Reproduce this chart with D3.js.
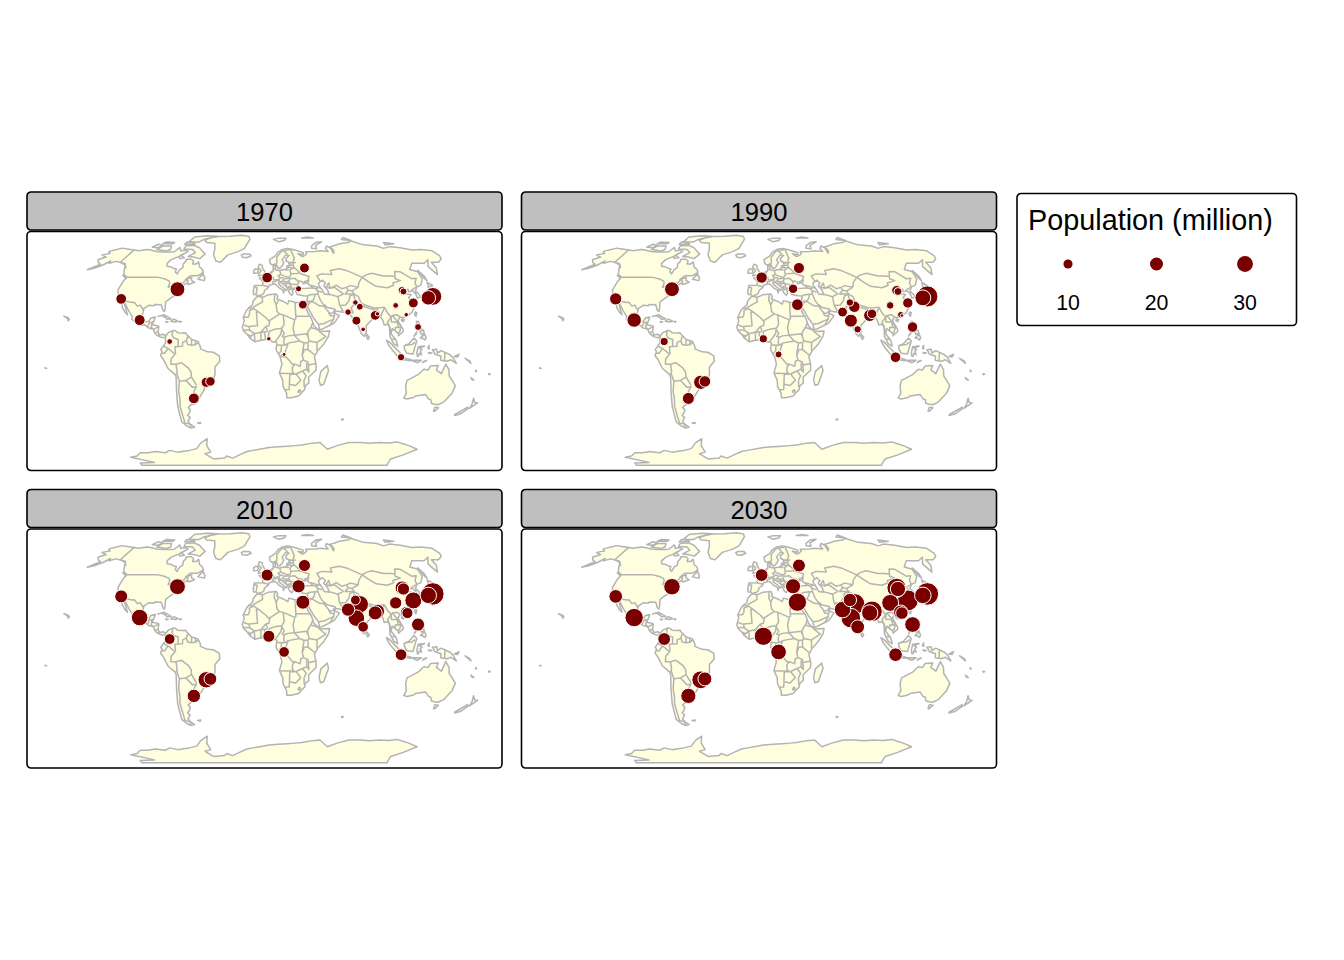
<!DOCTYPE html>
<html><head><meta charset="utf-8">
<script src="https://cdnjs.cloudflare.com/ajax/libs/d3/7.8.5/d3.min.js"></script>
<style>html,body{margin:0;padding:0;background:#fff}svg{display:block}text{font-family:"Liberation Sans",Arial,sans-serif;fill:#000}</style>
</head><body><svg id="c" width="1344" height="960"></svg>
<script>
// ---------- data ----------
const years = ["1970","1990","2010","2030"];
const cityNames = ["Tokyo","Osaka","New York","Los Angeles","Mexico City","Sao Paulo","Rio de Janeiro","Buenos Aires","Bogota","Paris","Moscow","Istanbul","Cairo","Lagos","Kinshasa","Karachi","Lahore","Delhi","Mumbai","Bangalore","Kolkata","Dhaka","Beijing","Tianjin","Chongqing","Shanghai","Guangzhou","Shenzhen","Manila","Jakarta"];
const cityLon = [139.8,135.5,-74,-118.2,-99.1,-46.6,-43.2,-58.4,-74.1,2.35,37.6,29,31.2,3.4,15.3,67,74.3,77.2,72.9,77.6,88.4,90.4,116.4,117.2,106.5,121.5,113.3,114.1,121,106.8];
const cityLat = [35.7,34.7,40.7,34,19.4,-23.5,-22.9,-34.6,4.6,48.85,55.75,41,30,6.5,-4.3,24.9,31.5,28.6,19,13,22.6,23.7,39.9,39.1,29.5,31.2,23.1,22.5,14.6,-6.2];
const pop1970 = [23.3,15.3,16.2,8.4,8.8,7.6,6.6,8.4,2.4,8.2,7.1,2.8,5.6,1.4,1.1,3.1,2.2,3.5,5.8,1.6,6.9,1.4,4.4,3.6,2.4,7.1,1.5,0.1,3.5,3.9];
const pop1990 = [32.5,18.4,16.1,10.9,15.3,14.8,9.6,10.5,4.7,9.3,9.0,6.5,9.9,4.8,3.6,7.1,4.1,9.7,12.4,4.0,10.9,6.6,6.8,4.6,4.2,7.8,3.1,0.9,8.0,8.2];
const pop2010 = [36.9,19.5,18.4,12.2,20.1,19.6,11.9,13.1,8.5,10.5,10.7,12.7,14.3,10.6,8.4,13.0,7.1,22.0,20.0,8.3,14.3,14.7,14.0,11.0,11.0,21.0,9.5,9.0,12.5,10.0];
const pop2030 = [37.2,20.0,19.9,13.6,24.6,23.2,14.2,16.9,11.9,11.8,12.2,16.7,24.5,24.2,18.0,20.0,13.0,33.0,28.0,14.0,19.4,31.0,27.0,17.0,21.0,32.0,15.0,11.5,18.0,13.5];
const popByYear = [pop1970,pop1990,pop2010,pop2030];
const legendTitle = "Population (million)";
const legendValues = [10,20,30];

// Robinson table
const robLat = [0,5,10,15,20,25,30,35,40,45,50,55,60,65,70,75,80,85,90];
const robLen = [1,.9986,.9954,.99,.9822,.973,.96,.9427,.9216,.8962,.8679,.835,.7986,.7597,.7186,.6732,.6213,.5722,.5322];
const robDfe = [0,.062,.124,.186,.248,.31,.372,.434,.4958,.5571,.6176,.6769,.7346,.7903,.8435,.8936,.9394,.9761,1];

// land polygons, [lon,lat]
const land = [
[[-168,65.6],[-164,66.5],[-162,66.9],[-166,68.3],[-163,69.5],[-157,71.2],[-150,70.5],[-141,69.7],[-135,69],[-128,70],[-125,69.8],[-115,68.5],[-108,68],[-100,68],[-96,68.2],[-94,71.8],[-90,69],[-85,69.5],[-81.5,68.5],[-85,66],[-87,64.5],[-93,62],[-94.5,59],[-92.5,57],[-88,56.5],[-85,55.3],[-82.3,55],[-82,52.9],[-79.5,51.5],[-79,54.5],[-77,56],[-78.5,58.7],[-77.5,60.5],[-78,62.4],[-73,62.3],[-70,61],[-69.5,58.8],[-66,58.8],[-64.5,60.3],[-61.5,56.5],[-58,54.8],[-56,52.5],[-60,50.2],[-66.5,50.2],[-70,47.5],[-65,49],[-64.5,47],[-61,45.5],[-66,44],[-67,45],[-70,43.7],[-70.7,42],[-74,40.6],[-75.5,38],[-76,35.5],[-78.5,33.8],[-81,32],[-80.2,27],[-80.3,25.3],[-81.7,26],[-82.8,28],[-84,30],[-89,30.2],[-90,29.2],[-94,29.6],[-97.3,27.5],[-97.5,24],[-97.5,21.5],[-96,19],[-94,18.2],[-91.5,18.6],[-90.5,20.8],[-87,21.5],[-87.8,18.2],[-88.7,16],[-86,15.9],[-83.3,15],[-83.6,11],[-82,9],[-79.5,9.6],[-77.3,8.6],[-77.5,7.5],[-78,7.3],[-80,7.4],[-81.7,7.8],[-83.5,8.5],[-85.7,10],[-87.5,13],[-91.5,14],[-94.5,16.2],[-97,15.8],[-101.5,17.5],[-105.5,20],[-105.5,22],[-109,25.6],[-112.5,29.5],[-114.7,31.7],[-112.5,28],[-110,24],[-109.5,23],[-112,25],[-115,28],[-117,32.5],[-120.5,34.5],[-122.5,37.5],[-124.3,40.3],[-124,46],[-123,49],[-127.5,51],[-130.5,54.5],[-133.5,58],[-140,59.8],[-146,60.7],[-151,59.3],[-152,61],[-155,58],[-160,55.5],[-165,54.5],[-158,58.5],[-162,59.8],[-166,62],[-161,64],[-168,65.6]],
[[-73,78.2],[-68,80.5],[-60,82],[-45,82.5],[-30,83.5],[-20,82],[-18,79],[-20,75],[-22,71],[-28,68.3],[-38,65.7],[-43,60],[-48,61],[-53,66],[-54,70],[-58,75.5],[-68,76],[-73,78.2]],
[[-80,73.5],[-72,71.5],[-67,69],[-62,66.5],[-65,62.8],[-72,64],[-78,64.5],[-73,67.5],[-78,70],[-88,70.5],[-89,73.3],[-80,73.5]],
[[-117,70],[-105,68.8],[-102,70],[-105,73],[-115,73],[-117,70]],
[[-125,72],[-118,71.5],[-115,73.5],[-122,74.5],[-125,72]],
[[-90,76.5],[-78,76.5],[-75,79],[-62,82.5],[-75,83],[-90,81.5],[-90,76.5]],
[[-92,74.5],[-80,74.5],[-82,75.7],[-92,76.5],[-92,74.5]],
[[-118,75],[-106,75],[-106,76.2],[-116,76.5],[-118,75]],
[[-86,65.5],[-81,63.5],[-85,62.8],[-87,64],[-86,65.5]],
[[-59,47.7],[-53,46.7],[-53,48.5],[-56,51.5],[-59,47.7]],
[[-128,50.5],[-123.5,48.4],[-125,50.2],[-128,50.5]],
[[-85,21.9],[-80,23],[-74.2,20.2],[-77.5,19.9],[-78.5,21],[-82,22.5],[-85,21.9]],
[[-74.4,18.5],[-72,20],[-68.5,18.6],[-71,18],[-74.4,18.5]],
[[-78.3,18.4],[-76.3,18.1],[-77.5,17.8],[-78.3,18.4]],
[[-67.2,18.5],[-65.7,18.3],[-67,17.9],[-67.2,18.5]],
[[-160,22],[-158,21.5],[-156,20.8],[-155,19.8],[-155.8,19],[-156.3,20],[-158,21.2],[-160,22]],
[[-172.7,-13.5],[-171.5,-13.9],[-172.7,-13.9],[-172.7,-13.5]],
// South America
[[-77.3,8.6],[-75.5,10.7],[-72,12],[-71.5,12.3],[-70,12],[-68,10.6],[-64,10.5],[-62,10.7],[-60,8.5],[-57,6],[-52,4.7],[-50,1],[-50,-0.5],[-44.5,-2.5],[-40,-2.8],[-35.3,-5.3],[-35,-9],[-39,-13],[-39.2,-18],[-41,-22],[-44.5,-23],[-48.5,-25.5],[-48.7,-28.5],[-52,-32.2],[-54,-34.5],[-58.3,-34],[-57,-36.5],[-58,-38.3],[-62,-39],[-65,-41],[-63.7,-42.5],[-65.5,-45],[-67.5,-46.3],[-66,-48],[-69,-50.5],[-68.3,-52.5],[-65.2,-54.8],[-69,-55.5],[-72,-54],[-75,-51],[-74,-45],[-73.5,-40],[-71.5,-30],[-70.2,-20],[-71,-18],[-76,-14],[-79,-8],[-81.3,-5],[-80,-2.5],[-81,-1],[-78.5,2],[-77.3,4],[-77.5,7],[-77.3,8.6]],
[[-61,-51.8],[-58,-51.4],[-58.5,-52.2],[-61,-51.8]],
// Africa
[[-6,35.8],[-1,35.2],[3,36.8],[10,37.3],[11,35.5],[10.2,34],[15,32.4],[19,30.4],[20,32.8],[25,31.7],[32,31.2],[34.2,31.3],[32.5,29.8],[35,24],[37.3,20.5],[39,15.5],[43.3,11.5],[51.2,11.9],[50,8],[46,2.5],[41.5,-1.8],[39,-6],[40.5,-11],[40.7,-15],[35,-20],[35.5,-24],[32.8,-26],[32.5,-28.5],[28,-33],[22,-34.2],[18.5,-34.2],[18,-31],[15,-26.5],[14.5,-22],[11.8,-17],[13.7,-11],[12.2,-6],[9,-1],[9.7,3.5],[8.7,4.5],[6,4.3],[4.3,6.3],[1,6],[-4.5,5.2],[-7.5,4.4],[-11.5,7],[-13.3,9.3],[-16.7,12.3],[-17.5,14.7],[-16,19],[-17,21],[-14.5,26],[-12.5,28],[-9.8,29.8],[-9.3,32.5],[-6,35.8]],
[[49.3,-12],[50.5,-15.5],[47.5,-24.8],[45,-25.5],[43.5,-22],[44.5,-16],[49.3,-12]],
// Eurasia
[[-9,37],[-9.5,38.8],[-8.8,43.3],[-1.8,43.4],[-1.2,46],[-4.7,48.4],[-1.6,48.7],[1.6,50.8],[4,52],[8,53.6],[8.3,57],[10.7,57.5],[10,54.5],[14,54],[18.5,54.7],[21,55.3],[21.5,57.5],[24.2,57.3],[23.5,59.2],[30,59.9],[24,60],[21.3,61],[21.5,63],[25.3,65.2],[22,65.7],[17.5,62],[18.8,59.8],[16.5,57],[14.3,55.5],[12.8,55.5],[11,59],[8,58],[5.5,59],[5,62],[10.5,64.5],[14.5,68],[19,70],[25.5,71],[31,70],[41,67.5],[40,65.8],[35,66.7],[38,64.5],[40,64.6],[44,66.5],[44,68.3],[54,68.5],[60,69],[68,68.5],[67,71],[70,73],[73,71.5],[72.5,67],[74.5,68.7],[74,72.5],[80,73.5],[87,75],[100,76.3],[104,77.7],[113,74],[127,73],[131,71],[140,72.5],[150,71.5],[160,69.7],[170,70],[180,69],[180,65],[177,62.5],[170,60],[163,60],[162,56],[156.7,51],[155.5,57],[163,62],[155,59.3],[143,59.3],[135.5,54.7],[141,53],[140,48],[135,43.5],[130.7,42.3],[127.5,39.5],[129.3,37],[129,35.2],[126.5,34.5],[126.5,37.5],[125,39.6],[121.5,39],[122,40.7],[118,39],[119,37.3],[122.5,37],[119.3,35],[122,31],[121,28],[118,24.5],[114,22.3],[110,21],[108,21.5],[105.8,19],[109,13],[109,11.5],[105,8.6],[105,10],[100.5,13.5],[99.3,10],[103,5.5],[104,1.4],[101,3],[98.3,8],[98.5,15],[97,16.5],[94.5,16],[94,19],[91.8,22.3],[90,22],[87,21.3],[85,19.5],[80.2,15.5],[80,11],[78,8.2],[76,10],[73,18],[72.8,21],[70,20.8],[69,22.3],[67,24.8],[62,25],[57.3,25.7],[56.5,27],[51,28],[48.5,30],[48,29.5],[50,26.5],[51.5,25],[52,24],[54.5,24.2],[56.4,26],[56.5,24],[59.8,22.5],[55.3,17.5],[52,16],[45,13],[43.3,12.7],[42.6,16.5],[39,21],[35,28],[34.9,29.5],[34.3,31.3],[36,36],[32.5,36.1],[30.5,36.5],[27.3,37],[26.3,39.5],[29,41],[31.5,41.2],[36,41.3],[41.5,41.6],[37.5,44.6],[39,47],[35,46],[36.5,45.2],[33.5,44.5],[33,46],[30.8,46.5],[28.7,44],[28,41.5],[26,40.7],[23.5,40.3],[24,38],[22.8,36.5],[21,38],[19.5,41],[19,42.3],[14.5,45.2],[12.3,45.5],[12.5,44],[16,41.7],[18.4,40],[16.5,39.8],[16,38],[15.7,40],[12.5,41.7],[10,43.8],[8.7,44.4],[4,43.5],[3.2,41.8],[0,39.8],[-0.5,38],[-2,36.8],[-5.5,36],[-7,37],[-9,37]],
[[-5.5,50],[1.3,51.2],[0,53.5],[-2,56],[-2,57.7],[-5,58.6],[-6,56],[-3,54],[-5,52],[-5.5,50]],
[[-10,52],[-6,52.2],[-5.7,54.7],[-8.5,55.2],[-10,54],[-10,52]],
[[-24,65.5],[-22,66.4],[-16,66.5],[-13.7,65],[-18,63.5],[-22.5,63.9],[-24,65.5]],
[[11,79],[17,76.7],[24,78],[27,80],[18,80.2],[11,79]],
[[52,71],[57,70.7],[58,73.5],[68,76.7],[60,76],[53,73],[52,71]],
[[95,79],[105,78],[100,81],[95,79]],
[[138,74],[150,75],[140,76],[138,74]],
[[47,80.5],[62,80.5],[55,81.5],[47,80.5]],
[[142,54],[143.5,50],[143,46.5],[142,49],[142,54]],
[[131,34],[135,33.6],[140,35],[141.5,38],[141.4,41],[140,40.5],[137,37],[133,35.5],[131,34]],
[[140,42],[145,43.3],[142,45.4],[141,43],[140,42]],
[[130,33.5],[131.8,33],[130.8,31.2],[130,32],[130,33.5]],
[[132.5,33.5],[134.5,34],[134,33.3],[133,32.8],[132.5,33.5]],
[[121,25],[122,24.5],[120.8,22],[120,23.5],[121,25]],
[[109,20],[111,19.8],[110,18.3],[108.7,19],[109,20]],
[[120.5,18.5],[122.3,18.3],[122,16],[124,13],[121,13.7],[120,16],[120.5,18.5]],
[[122,7],[125.5,9.7],[126.5,7],[125.3,5.7],[124,6.8],[122,7]],
[[122,11.7],[125,12.5],[125.3,10.2],[123,9.5],[122,11.7]],
[[117.2,8.4],[119.5,11.2],[119,10],[117.2,8.4]],
[[95.3,5.6],[98,4],[104,-1.5],[106,-3],[105.8,-5.8],[104,-5.5],[100.5,-2],[97,2],[95.3,5.6]],
[[105.2,-6.8],[108.5,-6.6],[114.5,-7.7],[114.4,-8.7],[108,-7.8],[105.2,-6.8]],
[[109,1.5],[113,3.2],[117,7],[119,5],[117.5,1],[116,-4],[111,-3.4],[109.2,-0.5],[109,1.5]],
[[119.5,-5.5],[119,-3],[120,1],[125,1.5],[121,0],[123,-1],[121.7,-2],[122.8,-4.5],[121,-3.5],[120.5,-5.5],[119.5,-5.5]],
[[131,-1],[134.5,-0.8],[135,-3.3],[138,-1.7],[145,-4.5],[147.5,-6.5],[150.5,-10.5],[146,-8],[143,-9],[138,-8.3],[138,-5.5],[133,-4],[132.5,-2.8],[131,-1]],
[[124,-10],[127,-8.5],[125,-9],[124,-10]],
[[115,-8.3],[123,-8.3],[120,-10],[115,-8.3]],
[[127.5,0],[128.5,2],[128.5,-0.5],[127.5,0]],
[[128,-3],[130.8,-3.3],[129,-3.6],[128,-3]],
[[148.5,-5.7],[152,-4.2],[151,-6],[148.5,-5.7]],
[[157,-7],[161,-9],[162,-10.5],[159,-8.5],[157,-7]],
[[166.5,-15],[167.5,-15.8],[167,-16.2],[166.5,-15]],
[[164,-20.2],[167,-22],[165.5,-21.8],[164,-20.2]],
[[177.3,-17.6],[178.7,-17.8],[178,-18.3],[177.3,-17.6]],
[[80,9.7],[82,7.5],[80.8,6],[79.8,8],[80,9.7]],
[[69,-49],[70.5,-49.2],[69.5,-49.8],[69,-49]],
// Australia, NZ
[[113.7,-22],[114.5,-21.8],[122,-18],[125.5,-14.5],[129,-15],[130.5,-12.3],[136.5,-12],[135.5,-15],[140,-17.5],[142.3,-11],[145.5,-15],[146.5,-19],[150,-22.5],[153.5,-26],[153,-31],[150,-37],[146.5,-39],[143,-38.7],[140,-38],[138,-35.5],[136,-35],[135.5,-34.8],[132,-32],[124,-33],[123,-34],[118,-35],[115,-34.3],[115.7,-31],[113.5,-26],[113.7,-22]],
[[144.8,-40.8],[148.2,-41],[147,-43.5],[146,-43.5],[144.8,-40.8]],
[[172.7,-40.6],[174,-41.7],[171,-45.5],[167,-46.5],[166.6,-45.8],[172.7,-40.6]],
[[172.8,-34.5],[176,-37.5],[178.5,-37.7],[177,-39.5],[175,-41.5],[174.8,-39],[172.8,-34.5]],
// Antarctica
[[-180,-90],[-172,-86],[-150,-85],[-166,-79.3],[-155,-78],[-144,-75],[-135,-75],[-125,-74],[-115,-75],[-107,-73],[-100,-74.5],[-90,-73.5],[-85,-73],[-75,-71.5],[-67,-67],[-58,-63.5],[-62,-69],[-62,-74.5],[-70,-76],[-65,-81],[-50,-80],[-46,-78],[-40,-80],[-30,-77],[-20,-74],[-13,-73],[5,-70.5],[15,-70],[25,-69.5],[33,-69],[40,-68.5],[50,-67],[58,-66.5],[70,-72],[78,-69],[88,-66.5],[100,-66.5],[110,-67],[120,-66.5],[130,-66.8],[138,-66],[146,-67.5],[155,-69],[170,-72],[166,-77],[161,-81],[175,-88],[180,-90],[-180,-90]]
];
const lakes = [[[47,45],[51,47],[53,45],[51,43],[53.5,40],[54,37],[50,37.3],[49,40],[47,43],[47,45]]];
const borders = [
[[-123,49],[-95,49],[-89,48],[-84,46.5],[-82.5,45],[-82.5,42],[-79,43],[-76,44.2],[-74.5,45],[-71,45],[-69,47.3],[-67.5,47],[-67,45]],
[[-141,69.7],[-141,60],[-135,59],[-130,55.5]],
[[-117,32.5],[-114.7,32.6],[-108,31.5],[-106.5,31.7],[-103,29],[-101,29.7],[-97.2,26]],
[[-92.2,14.6],[-91,17.8],[-89,17.9],[-88.3,18.4]],[[-89,17.9],[-89.2,15.9],[-89.3,14.4],[-87.7,13.3]],[[-87.3,13],[-83.2,15]],[[-85.7,11],[-83.7,11]],[[-83,8.3],[-82.6,9.6]],
[[-72,12],[-72.5,9],[-71,7],[-67.5,6],[-67.5,2],[-66.9,1.2]],[[-66.9,1.2],[-70,1],[-69.5,-4.2]],[[-69.9,-4.2],[-75.3,-0.1]],[[-75.3,-0.1],[-78.8,1.4]],[[-75.3,-0.1],[-78,-3.5],[-80.3,-3.4]],[[-60,8.5],[-61,5.2]],[[-61,5.2],[-64,4],[-64,1.4],[-66.9,1.2]],[[-61,5.2],[-60,2.5],[-57,2]],[[-57,6],[-57,2]],[[-54,5.7],[-54,2.3]],[[-57,2],[-54,2.3],[-51.6,4.2]],[[-69.9,-4.2],[-73,-7.3],[-73.5,-11],[-69.5,-11]],[[-69.5,-11],[-65.3,-10],[-60,-13.5],[-58,-16.5],[-58,-20]],[[-69.5,-11],[-69,-16],[-69.5,-17.5]],[[-69.5,-17.5],[-70.4,-18.3]],[[-69.5,-17.5],[-68,-22.8]],[[-68,-22.8],[-69.8,-30],[-70,-35],[-71.5,-40],[-72,-48],[-72.5,-52],[-68.5,-52.3]],[[-68.6,-52.7],[-68.6,-55]],[[-68,-22.8],[-62.7,-22.2]],[[-62.7,-22.2],[-58,-20]],[[-62.7,-22.2],[-58,-27],[-54.6,-26.5]],[[-58,-20],[-55.5,-24],[-54.6,-25.5]],[[-54.6,-26],[-57.6,-30.2]],[[-57.6,-30.2],[-53.5,-33.8]],[[-57.6,-30.2],[-58.3,-34]],
// Africa
[[-2,35.1],[-1.5,32],[-8.7,28.5],[-8.7,27.7]],[[-8.7,27.7],[-13,27.7]],[[-8.7,27.3],[-12,26],[-12,23.4],[-13,21.3],[-17,21.3]],[[-8.7,27.3],[-4.8,25]],[[-4.8,25],[-6.5,25],[-5.5,15.5],[-12,15],[-12.2,14.7]],[[-12.2,14.7],[-16.5,16]],[[-4.8,25],[1.2,21],[3.2,19],[4.2,19.2]],[[4.2,19.2],[12,23.5]],[[12,23.5],[10,25.5],[9.5,30],[11.5,33]],[[9.5,30],[8,33],[8.5,36.9]],[[25,31.6],[25,20]],[[25,20],[24,20]],[[24,19.5],[15,23]],[[15,23],[12,23.5]],[[25,22],[37,22]],[[24,19.5],[22.5,14],[23.5,9]],[[15,23],[15.5,16.5],[13.6,13.7]],[[13.6,13.7],[8,13],[3.6,11.7]],[[4.2,19.2],[3.5,15.5],[1,15]],[[1,15],[2.4,12]],[[1,15],[-2.8,11],[-5.5,10.5]],[[-5.5,10.5],[-8,10.2],[-11.5,12.3],[-12.2,14.7]],[[-2.8,11],[-2.8,5]],[[-8,10.2],[-7.5,4.4]],[[-8,10.2],[-10.5,8.3],[-11.5,7]],[[-10.5,8.3],[-13.2,9.3]],[[-13.7,12.6],[-16.8,12.4]],[[-11.5,12.3],[-13.7,12.6]],[[-0.1,11],[1,6]],[[-2.8,11],[2.4,11.5]],[[3.6,11.7],[2.7,6.3]],[[13.6,13.7],[13,10],[8.6,4.7]],[[13.6,13],[15.5,10],[13.9,8],[15.5,7.5]],[[15.5,7.5],[18.5,8.5],[23.5,9]],[[15.5,7.5],[15,4],[16,2]],[[9.8,2.2],[16,2]],[[13.3,2.2],[13,-2],[11,-3.9]],[[18.5,3.5],[27.4,5]],[[18.5,3.5],[16,-3],[12.5,-5.5]],[[16,2],[18.5,3.5]],[[23.5,9],[33,10],[34,8]],[[38.5,18],[36.5,14.3],[34,11],[34,8]],[[36.5,14.3],[43,12.5]],[[34,8],[35,5]],[[27.4,5],[31,3.6]],[[23.5,9],[27.4,5]],[[31,3.6],[34,4]],[[34,4],[35,5]],[[35,5],[41,4]],[[41,4],[48,8],[43,11.5]],[[41,4],[41,-1.7]],[[34,4],[34,1],[34,-1]],[[34,-1],[39.2,-4.7]],[[31,3.6],[30,-1]],[[30,-1],[34,-1]],[[30,-1],[29.5,-4.5],[30.5,-8.2]],[[30.5,-8.2],[34,-9.5],[34.5,-11.6]],[[34.5,-11.6],[40.5,-10.5]],[[30,-1],[30.8,-2.4],[29.5,-4.5]],[[34.5,-11.6],[35,-16.5],[33.3,-14.5]],[[33.3,-14.5],[33,-10]],[[12.5,-5.9],[17,-6],[22,-11],[24,-11]],[[24,-11],[28,-12.5],[28.5,-9],[30.5,-8.2]],[[24,-11],[22,-13],[22,-16],[23.4,-17.5]],[[11.8,-17.3],[18,-17.4],[23.4,-17.5]],[[25,-17.8],[30,-15.7]],[[30,-15.7],[33.3,-14.5]],[[30,-15.7],[33,-19],[31.5,-22.3]],[[25,-17.8],[29,-22]],[[29,-22],[25,-25.7],[20,-24.8]],[[20,-18],[20,-24.8]],[[20,-18],[23.4,-18],[25,-17.8]],[[20,-24.8],[20,-28.4],[16.5,-28.6]],[[31.5,-22.3],[32,-26.5],[32.8,-26.8]],[[27,-29.7],[28.5,-28.6],[29.4,-29.6],[28,-30.6],[27,-29.7]],
// Europe
[[-1.8,43.4],[3.2,42.4]],[[-8.8,42],[-6.3,41.7],[-7,37.2]],[[2.5,51],[6,49.5]],[[6,49.5],[8,49],[7.6,47.6]],[[7.6,47.6],[10.5,47],[9.3,46],[7,46]],[[7,46],[7.5,43.8]],[[7,53.3],[6,50.8]],[[3.4,51.4],[6,50.8],[6,49.5]],[[8.6,55],[10,54.8]],[[14.2,54],[14.8,51]],[[14.8,51],[12.2,50.2],[13.8,48.7]],[[13.8,48.7],[13,47.6],[10.5,47.4]],[[10.5,47],[13.7,46.5]],[[13.8,48.7],[17,48.7]],[[17,48],[16,46.8]],[[14.8,51],[19,49.5],[22.5,49.1]],[[22.5,49.1],[24,51],[23.5,54]],[[18.8,54.4],[22.8,54.4]],[[21,56.3],[26.5,55.7],[23.5,54]],[[24.3,57.9],[27.5,57.6]],[[28,59.5],[27.5,57.6],[28,56],[26.5,55.7]],[[28,56],[31.7,53],[32,52]],[[24,51.5],[32,52]],[[32,52],[35,51],[40,49.6],[38.2,47]],[[22.5,48],[27,48.3],[30,46],[29.7,45.3]],[[21,46.2],[22.5,48]],[[21,46.2],[22.7,44.3],[28.5,43.8]],[[17,48],[22.5,48.3]],[[16,46.6],[19,45.8],[21,46.2]],[[13.6,45.5],[16,46.6]],[[15.8,45],[19,44.9],[18.5,42.5]],[[19,44.9],[22.7,44.3]],[[22.7,44.3],[23,41.3]],[[23,41.3],[26.2,41.5],[28,42]],[[20.9,40],[23,41.3]],[[19.3,42],[21,42.5],[20.9,40.5]],[[21,42.5],[23,42.3]],[[12,59],[12.5,64],[18,68.5],[20.5,69]],[[20.5,69],[24,66]],[[20.5,69],[28.5,70]],[[28.5,69.5],[30,63],[28,60.5]],
// Asia
[[40,43.4],[46.5,41.8]],[[41.5,41.6],[43.5,41],[44.8,39.7]],[[44.8,39.7],[48.5,38.5]],[[46.5,41.8],[48.5,41.8]],[[43.5,41],[46.5,41.8]],[[44.8,39.7],[44.7,37.2]],[[36,36],[37,36.7],[42.3,37.2],[44.7,37.2]],[[44.7,37.2],[46,33],[48,30]],[[42.3,37.2],[41,34.3],[39,32.3]],[[36,32.5],[39,32.3]],[[39,32.3],[37,31.5],[35,29.4]],[[35,29.5],[35.5,32.5]],[[39,32.3],[44.7,29.2],[48,29]],[[43,16.5],[47,17],[52,19],[55,20]],[[52,16],[55,20],[55.5,22],[52.5,22.5],[51.5,24.5]],[[55.5,22],[56.3,24.8]],[[49,46.2],[47,50],[52,51.5],[61,51],[61,54],[70,55.2],[76,54],[83,51],[87.3,49]],[[87.3,49],[92,50.8],[98,52],[102,51],[107,50],[113,50],[117,49.6]],[[87.3,49],[91,46],[96,42.7],[105,41.7],[111.5,43.5],[111.8,45],[119.7,46.7],[116,48],[117,49.6]],[[117,49.6],[120,53.3],[125,53],[131,48],[135,48.4],[131,45],[130.7,42.3]],[[130.7,42.3],[124.3,40]],[[126,37.8],[128.4,38.6]],[[87.3,49],[82.5,45.5],[80.2,42]],[[80.2,42],[74,43.2],[70,42],[66,41],[62,43.6],[56,41.3],[56,45],[52.5,42]],[[53,42],[56,41.3],[60,42],[66,37.5],[61,35.5],[54,37.3]],[[70,42],[71,40],[67.5,37.5]],[[71,40],[74,39.5]],[[74,39.5],[75,37.3]],[[80.2,42],[74,39.5]],[[67,37.4],[75,37.3]],[[75,37.3],[71,36],[69.5,33],[66,29.8],[61,29.5]],[[61,35.5],[61,29.5]],[[61,29.5],[63,26],[61.5,25]],[[74.5,37],[74.5,33],[74.5,31],[70,28],[71,24.5],[68.2,23.7]],[[75,37.3],[78,35.5],[79,31],[81,30],[88,27.9],[92,27.8],[97,28.3]],[[81,30],[80.2,28.8],[88,26.4],[88,27.9]],[[89,27],[92,27]],[[88.5,26.3],[89,22]],[[88.5,26.3],[92,25],[92.5,21]],[[97,28],[94,24],[92.5,21.5]],[[97,28.3],[98.7,24],[101,21.5]],[[101,21.5],[97.5,18],[98.5,15],[99.3,11]],[[101,21.5],[102,22.5],[106,23],[108,21.5]],[[102,22.5],[105,19],[107.5,15]],[[101,21.5],[100.5,18],[105,18],[105.5,14.5]],[[102.5,12],[103,14.3],[107.5,14.5],[106,11],[104.5,10.4]],[[100,6.5],[102,6]],[[109.6,2],[115,2.5],[117.7,4.2]],[[141,-2.6],[141,-9]]
];

// ---------- layout ----------
const svg = d3.select("#c");
const R = 86.5;
const latLen = d3.scaleLinear().domain(robLat).range(robLen);
const latDfe = d3.scaleLinear().domain(robLat).range(robDfe);
const rob = (lon,lat)=>{
  const a=Math.abs(lat), s=lat<0?-1:1;
  return [0.8487*R*latLen(a)*lon*Math.PI/180, -1.3523*R*latDfe(a)*s];
};
const tf = d3.geoTransform({point(x,y){const p=rob(x,y);this.stream.point(p[0],p[1]);}});
const path = d3.geoPath(tf);
const closed = a=>({type:"Polygon",coordinates:[a]});
const panels = [{x:27,y:192},{x:521.5,y:192},{x:27,y:489.5},{x:521.5,y:489.5}];
const W=475, HH=38, MH=239;
const rScale = d3.scaleSqrt().domain([0,40]).range([0,1.85*Math.sqrt(40)]);
const legR = d3.scaleSqrt().domain([0,30]).range([0,1.45*Math.sqrt(30)]);

panels.forEach((p,i)=>{
  const g = svg.append("g").attr("transform",`translate(${p.x},${p.y})`);
  g.append("rect").attr("x",0).attr("y",39.5).attr("width",W).attr("height",MH).attr("rx",4).attr("fill","#fff");
  const mapG = g.append("g").attr("transform",`translate(${W/2},156.2)`);
  mapG.selectAll("path.l").data(land).join("path").attr("class","l").attr("d",d=>path(closed(d)))
    .attr("fill","#ffffe0").attr("stroke","#b3b3b3").attr("stroke-width",1.5).attr("stroke-linejoin","round");
  mapG.selectAll("path.w").data(lakes).join("path").attr("class","w").attr("d",d=>path(closed(d)))
    .attr("fill","#fff").attr("stroke","#b3b3b3").attr("stroke-width",1.5);
  mapG.selectAll("path.b").data(borders).join("path").attr("class","b")
    .attr("d",d=>path({type:"LineString",coordinates:d})).attr("fill","none")
    .attr("stroke","#b3b3b3").attr("stroke-width",1.5).attr("stroke-linejoin","round");
  const recs = cityNames.map((n,k)=>({n,lon:cityLon[k],lat:cityLat[k],v:popByYear[i][k]}))
    .filter(d=>d.v>=0.5).sort((a,b)=>b.v-a.v);
  mapG.selectAll("circle").data(recs).join("circle")
    .attr("cx",d=>rob(d.lon,d.lat)[0]).attr("cy",d=>rob(d.lon,d.lat)[1]).attr("r",d=>rScale(d.v))
    .attr("fill","#7a0000").attr("stroke","#fff").attr("stroke-width",1);
  g.append("rect").attr("x",0).attr("y",39.5).attr("width",W).attr("height",MH).attr("rx",4)
    .attr("fill","none").attr("stroke","#000").attr("stroke-width",1.6);
  g.append("rect").attr("x",0).attr("y",0).attr("width",W).attr("height",HH).attr("rx",4)
    .attr("fill","#bfbfbf").attr("stroke","#000").attr("stroke-width",1.6);
  g.append("text").attr("x",W/2).attr("y",29).attr("text-anchor","middle").attr("font-size",25.6).text(years[i]);
});

// legend
const lg = svg.append("g").attr("transform","translate(1017,193.5)");
lg.append("rect").attr("width",279.5).attr("height",132).attr("rx",4).attr("fill","#fff").attr("stroke","#000").attr("stroke-width",1.6);
lg.append("text").attr("x",11).attr("y",36.5).attr("font-size",28.8).text(legendTitle);
const lx = d3.scalePoint().domain(legendValues).range([51,228]);
lg.selectAll("circle").data(legendValues).join("circle").attr("cx",d=>lx(d)).attr("cy",70.5).attr("r",d=>legR(d)).attr("fill","#7a0000");
lg.selectAll("text.v").data(legendValues).join("text").attr("class","v").attr("x",d=>lx(d)).attr("y",116.5)
  .attr("text-anchor","middle").attr("font-size",21.3).text(d=>d);
</script></body></html>
